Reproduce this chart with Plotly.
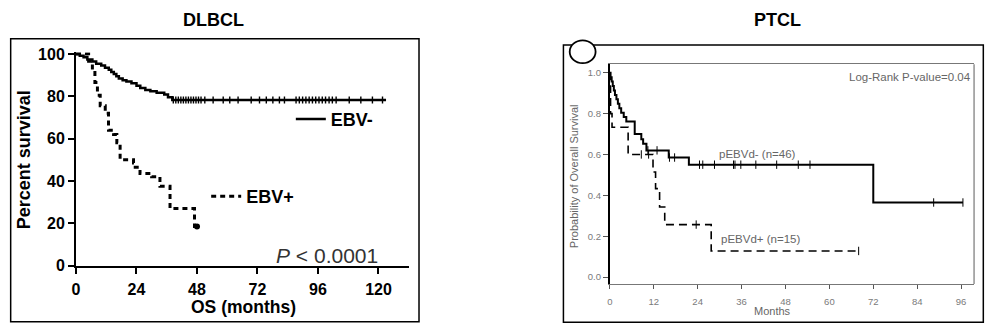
import plotly.graph_objects as go

W, H = 987, 334
FONT = "Liberation Sans, Arial, sans-serif"

# ---------------- DLBCL data (Percent survival vs months) ----------------
ebv_neg_t = [0, 1.5, 3, 4.5, 6.5, 8, 10, 11.5, 13, 14, 15, 16, 17, 18.5, 20, 22, 24,
             25.5, 27.5, 29.5, 32, 35, 36.5, 38.2, 123]
ebv_neg_s = [100, 99.2, 98.4, 97.4, 96.4, 95.4, 94.5, 93.5, 92.5, 91.5, 90.5, 89.5, 88.4,
             87.6, 87.0, 86.2, 85.0, 83.9, 83.0, 82.4, 81.7, 80.8, 79.6, 78.3, 78.3]
ebv_neg_cens = [38.6, 39.6, 40.6, 41.6, 42.6, 43.6, 44.6, 45.6, 46.6, 47.6, 48.6, 49.6, 51.1,
                54.4, 58.4, 61.0, 64.3, 69.5, 72.8, 75.5, 78.1, 80.7, 82.7, 87.3, 88.6,
                89.9, 91.2, 92.5, 93.8, 95.1, 96.4, 97.7, 99.0, 100.4, 101.7, 103.2,
                108.4, 113.0, 117.6, 121.6]

ebv_pos_t = [0, 5.0, 6.5, 7.5, 8.5, 9.6, 11.6, 12.9, 14.9, 16.2, 17.5, 22.8, 23.5, 25.4,
             30.0, 33.3, 37.3, 47.0, 48.0]
ebv_pos_s = [100, 96.5, 92.5, 86.5, 80.5, 75.5, 72.0, 64.0, 62.0, 58.0, 50.0, 48.5, 46.5,
             43.5, 42.0, 37.5, 27.0, 18.5, 18.5]
ebv_pos_cens = [48.0]

# ---------------- PTCL data (Probability of overall survival vs months) ----------------
neg_t = [0, 0.2, 0.5, 0.8, 1.1, 1.4, 1.8, 2.2, 2.6, 3.1, 3.8, 4.5, 6.8, 8.6, 9.1, 10.0,
         16.1, 21.6, 72.0, 96.5]
neg_s = [1.0, 0.978, 0.957, 0.935, 0.913, 0.891, 0.870, 0.848, 0.826, 0.804, 0.783, 0.761,
         0.70, 0.674, 0.652, 0.62, 0.585, 0.55, 0.365, 0.365]
neg_cens = [10.4, 12.9, 16.3, 17.7, 24.5, 25.4, 28.6, 33.8, 34.2, 35.8, 39.9, 45.6, 51.5,
            54.7, 88.5, 96.5]

pos_t = [0, 0.1, 0.2, 0.6, 5.0, 11.8, 12.5, 13.6, 15.0, 27.7, 68.0]
pos_s = [1.0, 0.933, 0.80, 0.733, 0.60, 0.514, 0.433, 0.343, 0.257, 0.128, 0.128]
pos_cens = [8.6, 10.6, 23.6, 68.0]

left_xticks = [0, 24, 48, 72, 96, 120]
left_yticks = [0, 20, 40, 60, 80, 100]
right_xticks = [0, 12, 24, 36, 48, 60, 72, 84, 96]
right_yticks = [0.0, 0.2, 0.4, 0.6, 0.8, 1.0]


def level(ts, ss, t):
    v = ss[0]
    for ti, si in zip(ts, ss):
        if ti <= t:
            v = si
    return v


def px(x):
    return x / W


def py(y):
    return 1 - y / H


fig = go.Figure()

# Left panel traces
fig.add_trace(go.Scatter(x=ebv_neg_t, y=ebv_neg_s, mode="lines", line_shape="hv",
                         line=dict(color="black", width=2.5), name="EBV-",
                         xaxis="x", yaxis="y", legend="legend"))
fig.add_trace(go.Scatter(x=ebv_neg_cens, y=[level(ebv_neg_t, ebv_neg_s, t) for t in ebv_neg_cens],
                         mode="markers", marker=dict(symbol="line-ns", size=5,
                                                     line=dict(color="black", width=1.4)),
                         showlegend=False, xaxis="x", yaxis="y"))
fig.add_trace(go.Scatter(x=ebv_pos_t, y=ebv_pos_s, mode="lines", line_shape="hv",
                         line=dict(color="black", width=3, dash="5px,4px"), name="EBV+",
                         xaxis="x", yaxis="y", legend="legend2"))
fig.add_trace(go.Scatter(x=ebv_pos_cens, y=[level(ebv_pos_t, ebv_pos_s, t) for t in ebv_pos_cens],
                         mode="markers", marker=dict(symbol="circle", size=6, color="black"),
                         showlegend=False, xaxis="x", yaxis="y"))

# Right panel traces
fig.add_trace(go.Scatter(x=neg_t, y=neg_s, mode="lines", line_shape="hv",
                         line=dict(color="black", width=2), showlegend=False,
                         xaxis="x2", yaxis="y2"))
fig.add_trace(go.Scatter(x=neg_cens, y=[level(neg_t, neg_s, t) for t in neg_cens],
                         mode="markers", marker=dict(symbol="line-ns", size=6,
                                                     line=dict(color="black", width=1)),
                         showlegend=False, xaxis="x2", yaxis="y2"))
fig.add_trace(go.Scatter(x=pos_t, y=pos_s, mode="lines", line_shape="hv",
                         line=dict(color="black", width=1.6, dash="8px,5px"), showlegend=False,
                         xaxis="x2", yaxis="y2"))
fig.add_trace(go.Scatter(x=pos_cens, y=[level(pos_t, pos_s, t) for t in pos_cens],
                         mode="markers", marker=dict(symbol="line-ns", size=6,
                                                     line=dict(color="black", width=1)),
                         showlegend=False, xaxis="x2", yaxis="y2"))

# Left axes geometry (pixels)
Lx0, Lx1 = 72.3, 406.7
Ly0 = 271.7
Lys = 2.224
Lxs = (376.0 - 72.3) / 120
Ltop_val = 100.8
Ly1 = Ly0 - Ltop_val * Lys

# Right axes geometry (pixels)
Rx0, Rx1 = 608.3, 974.0
Rxs = (961.0 - 608.3) / 96
Rb, Rt = 291.0, 60.0
R0, R1 = 283.7, 69.0
Rys = (R0 - R1)
Rymin = -(Rb - R0) / Rys
Rymax = 1 + (R1 - Rt) / Rys

bold16 = dict(family=FONT, size=16, color="black", weight="bold")
gray10 = dict(family=FONT, size=9.5, color="#7a7a7a")

fig.update_layout(
    width=W, height=H, margin=dict(l=0, r=0, t=0, b=0),
    paper_bgcolor="white", plot_bgcolor="white",
    xaxis=dict(domain=[px(Lx0), px(Lx1)], range=[0, (Lx1 - Lx0) / Lxs],
               tickvals=left_xticks, ticks="outside", ticklen=6, tickwidth=2,
               tickcolor="black", showline=True, linecolor="black", linewidth=2,
               showgrid=False, zeroline=False, tickfont=bold16, anchor="y",
               ticklabelstandoff=2),
    yaxis=dict(domain=[py(Ly0), py(Ly1)], range=[0, Ltop_val],
               tickvals=left_yticks, ticks="outside", ticklen=6, tickwidth=2,
               tickcolor="black", showline=True, linecolor="black", linewidth=2,
               showgrid=False, zeroline=False, tickfont=bold16, anchor="x"),
    xaxis2=dict(domain=[px(Rx0), px(Rx1)], range=[0, (Rx1 - Rx0) / Rxs],
                tickvals=right_xticks, ticks="outside", ticklen=4, tickwidth=1,
                tickcolor="#555", showline=True, linecolor="#777", linewidth=1.2,
                mirror=True, showgrid=False, zeroline=False, tickfont=gray10, anchor="y2",
                ticklabelstandoff=4),
    yaxis2=dict(domain=[py(Rb), py(Rt)], range=[Rymin, Rymax],
                tickvals=right_yticks, tickformat=".1f", ticks="outside", ticklen=5,
                tickwidth=1, tickcolor="#555", showline=True, linecolor="black",
                linewidth=2, showgrid=False, zeroline=False, tickfont=gray10, anchor="x2"),
    legend=dict(x=px(288), y=py(118), xanchor="left", yanchor="middle",
                bgcolor="rgba(0,0,0,0)", font=dict(family=FONT, size=18, color="black",
                                                   weight="bold"),
                itemwidth=30),
    legend2=dict(x=px(203), y=py(199), xanchor="left", yanchor="middle",
                 bgcolor="rgba(0,0,0,0)", font=dict(family=FONT, size=18, color="black",
                                                    weight="bold"),
                 itemwidth=30),
)

shapes = [
    dict(type="rect", xref="paper", yref="paper", x0=px(6.7), x1=px(416.7),
         y0=py(330.7), y1=py(33.3), line=dict(color="black", width=1.5)),
    dict(type="rect", xref="paper", yref="paper", x0=px(561.7), x1=px(983.3),
         y0=py(331), y1=py(40), line=dict(color="black", width=1.5)),
    dict(type="line", xref="x2 domain", yref="y2 domain", x0=1, x1=1, y0=0, y1=1,
         line=dict(color="#777", width=1.2)),
    dict(type="circle", xref="paper", yref="paper", x0=px(568), x1=px(594),
         y0=py(59), y1=py(35), fillcolor="white", line=dict(color="black", width=1.8),
         layer="above"),
]
fig.update_layout(shapes=shapes)

ann = [
    dict(text="DLBCL", x=px(210), y=py(14), font=dict(family=FONT, size=18, weight="bold",
                                                      color="black")),
    dict(text="PTCL", x=px(777), y=py(14), font=dict(family=FONT, size=18, weight="bold",
                                                     color="black")),
    dict(text="Percent survival", x=px(20), y=py(160), textangle=-90,
         font=dict(family=FONT, size=18, weight="bold", color="black")),
    dict(text="OS (months)", x=px(240), y=py(315),
         font=dict(family=FONT, size=17.5, weight="bold", color="black")),
    dict(text="<i>P</i> < 0.0001", x=px(324), y=py(261),
         font=dict(family=FONT, size=21, color="#333")),
    dict(text="Probability of Overall Survival", x=px(573), y=py(178), textangle=-90,
         font=dict(family=FONT, size=11, color="#666")),
    dict(text="Months", x=px(772), y=py(319), font=dict(family=FONT, size=11, color="#666")),
    dict(text="Log-Rank P-value=0.04", x=px(846), y=py(74), xanchor="left",
         font=dict(family=FONT, size=11.5, color="#666")),
    dict(text="pEBVd- (n=46)", x=px(716), y=py(154), xanchor="left",
         font=dict(family=FONT, size=11.5, color="#666")),
    dict(text="pEBVd+ (n=15)", x=px(718), y=py(244), xanchor="left",
         font=dict(family=FONT, size=11.5, color="#666")),
]
for a in ann:
    a.setdefault("xref", "paper")
    a.setdefault("yref", "paper")
    a.setdefault("showarrow", False)
    a.setdefault("xanchor", "center")
    a.setdefault("yanchor", "middle")
fig.update_layout(annotations=ann)

fig.write_html("out.html")
